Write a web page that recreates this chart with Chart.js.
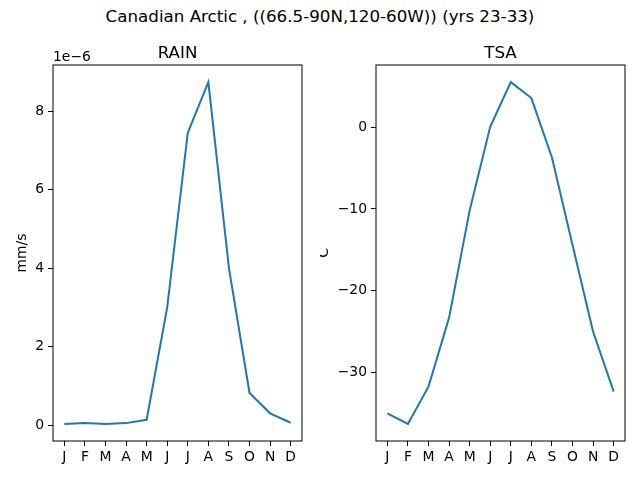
<!DOCTYPE html>
<html>
<head>
<meta charset="utf-8">
<script src="https://cdn.jsdelivr.net/npm/chart.js@4/dist/chart.umd.min.js"></script>
<style>
  html, body { margin: 0; padding: 0; background: #fff; }
  #wrap { position: relative; width: 640px; height: 480px; }
  #sup { position: absolute; left: 0; top: 6px; width: 640px; text-align: center;
         font: 16.7px "DejaVu Sans", sans-serif; color: #000; }
  .pane { position: absolute; top: 0; width: 320px; height: 480px; }
</style>
</head>
<body>
<div id="wrap">
  <div id="sup">Canadian Arctic , ((66.5-90N,120-60W)) (yrs 23-33)</div>
  <div class="pane" style="left:0"><canvas id="rain"></canvas></div>
  <div class="pane" style="left:320px"><canvas id="tsa"></canvas></div>
</div>
<script>
const months = ['J', 'F', 'M', 'A', 'M', 'J', 'J', 'A', 'S', 'O', 'N', 'D'];

// RAIN, mm/s
const rainValues = [0.03e-6, 0.05e-6, 0.03e-6, 0.05e-6, 0.135e-6, 3.0e-6,
                    7.45e-6, 8.74e-6, 4.0e-6, 0.82e-6, 0.3e-6, 0.06e-6];
// TSA, C
const tsaValues = [-34.95, -36.25, -31.7, -23.3, -10.2, 0.05,
                   5.5, 3.55, -3.7, -14.4, -25.0, -32.3];

const rainTicks = [0, 2e-6, 4e-6, 6e-6, 8e-6];
const tsaTicks = [-30, -20, -10, 0];

const FONT = '"DejaVu Sans", sans-serif';
Chart.defaults.font.family = FONT;
Chart.defaults.color = '#000';

// frame, title, y label and offset text, like matplotlib
const decor = {
    id: 'decor',
    afterDraw(chart, args, opts) {
        const { ctx, chartArea: a } = chart;
        ctx.save();
        ctx.strokeStyle = '#000';
        ctx.lineWidth = 1;
        ctx.strokeRect(a.left, a.top, a.right - a.left, a.bottom - a.top);
        ctx.fillStyle = '#000';
        ctx.textAlign = 'center';
        ctx.textBaseline = 'middle';
        ctx.font = '16.7px ' + FONT;
        ctx.fillText(opts.title, (a.left + a.right) / 2, a.top - 11);
        ctx.font = '13.9px ' + FONT;
        if (opts.offset) {
            ctx.textAlign = 'left';
            ctx.fillText(opts.offset, a.left, a.top - 8);
        }
        ctx.translate(opts.labelX, (a.top + a.bottom) / 2);
        ctx.rotate(-Math.PI / 2);
        ctx.textAlign = 'center';
        ctx.fillText(opts.ylabel, 0, 0);
        ctx.restore();
    }
};

function makeChart(id, values, yTicks, fmt, opts) {
    const ext = Math.max(...values) - Math.min(...values);
    return new Chart(document.getElementById(id), {
        type: 'line',
        data: {
            labels: months,
            datasets: [{
                data: values.map((v, i) => ({ x: i, y: v })),
                borderColor: '#1f77b4',
                borderWidth: 2,
                pointRadius: 0,
                tension: 0,
                fill: false
            }]
        },
        options: {
            responsive: false,
            animation: false,
            devicePixelRatio: 1,
            layout: { padding: { top: 65, left: 0, right: opts.right, bottom: 0 } },
            plugins: {
                legend: { display: false },
                tooltip: { enabled: false },
                decor: opts
            },
            scales: {
                x: {
                    type: 'linear',
                    min: -0.55,
                    max: 11.55,
                    afterBuildTicks: s => { s.ticks = months.map((m, i) => ({ value: i })); },
                    afterFit: s => { s.height = 39; },
                    ticks: { callback: v => months[v], font: { size: 13.9 }, padding: 3, maxRotation: 0, autoSkip: false },
                    grid: { drawOnChartArea: false, tickLength: 5, color: '#000' },
                    border: { display: false }
                },
                y: {
                    min: Math.min(...values) - ext * 0.05,
                    max: Math.max(...values) + ext * 0.05,
                    afterBuildTicks: s => { s.ticks = yTicks.map(v => ({ value: v })); },
                    afterFit: s => { s.width = opts.left; },
                    ticks: { callback: fmt, font: { size: 13.9 }, padding: 4 },
                    grid: { drawOnChartArea: false, tickLength: 5, color: '#000' },
                    border: { display: false }
                }
            }
        },
        plugins: [decor]
    });
}

for (const id of ['rain', 'tsa']) {
    const c = document.getElementById(id);
    c.width = 320; c.height = 480;
}

makeChart('rain', rainValues, rainTicks, v => String(Math.round(v * 1e6)),
    { title: 'RAIN', ylabel: 'mm/s', offset: '1e\u22126', labelX: 22, left: 53, right: 18 });
makeChart('tsa', tsaValues, tsaTicks, v => String(Math.round(v)).replace('-', '\u2212'),
    { title: 'TSA', ylabel: 'C', offset: '', labelX: 4, left: 56, right: 15 });
</script>
</body>
</html>
